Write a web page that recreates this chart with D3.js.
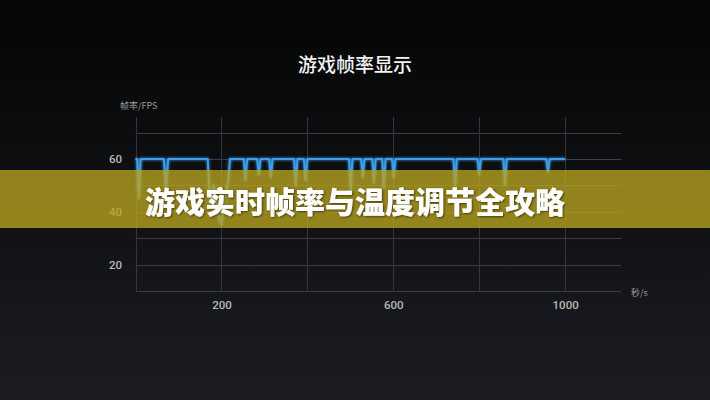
<!DOCTYPE html>
<html><head><meta charset="utf-8">
<script src="https://cdn.jsdelivr.net/npm/d3@7"></script>
<style>html,body{margin:0;padding:0;background:#0a0a0b;}svg{display:block;}</style>
</head><body>
<script>
const chartTitle = "游戏帧率显示";
const bannerText = "游戏实时帧率与温度调节全攻略";
const yAxisTitle = "帧率/FPS";
const xAxisTitle = "秒/s";
const xGridValues = [0, 200, 400, 600, 800, 1000];
const xTickLabels = [200, 600, 1000];
const yGridValues = [10, 20, 30, 40, 50, 60, 70];
const yTickLabels = [20, 40, 60];
const seconds = [0,4,8,12, 66,71,76, 168,174,182,190,200,208,216,220, 252,256,260, 283,287,291, 311,315,319, 369,373,377, 392,396,400, 497,501,505, 525,529,533, 551,555,559, 574,578,582, 597,601,605, 740,744,748, 796,800,804, 856,860,864, 956,960,964, 1000];
const fps =     [60,60,45,60, 60,48,60, 60,42,50,40,35,45,52,60, 60,52,60, 60,54,60, 60,53,60, 60,50,60, 60,52,60, 60,48,60, 60,53,60, 60,51,60, 60,49,60, 60,53,60, 60,50,60, 60,54,60, 60,50,60, 60,55,60, 60];

const W = 710, H = 400;
const svg = d3.select("body").append("svg").attr("width", W).attr("height", H);
const defs = svg.append("defs");
const bg = defs.append("linearGradient").attr("id","bg").attr("x1",0).attr("y1",0).attr("x2",0).attr("y2",1);
bg.append("stop").attr("offset","0").attr("stop-color","#050505");
bg.append("stop").attr("offset","0.35").attr("stop-color","#0c0d0f");
bg.append("stop").attr("offset","1").attr("stop-color","#1b1d23");
const glow = defs.append("filter").attr("id","glow").attr("x","-20%").attr("y","-20%").attr("width","140%").attr("height","140%");
glow.append("feGaussianBlur").attr("stdDeviation",1.6).attr("result","b");
const m = glow.append("feMerge");
m.append("feMergeNode").attr("in","b");
m.append("feMergeNode").attr("in","SourceGraphic");
const shadow = defs.append("filter").attr("id","tshadow").attr("x","-10%").attr("y","-30%").attr("width","120%").attr("height","160%");
shadow.append("feDropShadow").attr("dx",1).attr("dy",1).attr("stdDeviation",1.2).attr("flood-color","#000").attr("flood-opacity",0.55);

svg.append("rect").attr("width",W).attr("height",H).attr("fill","url(#bg)");

const x = d3.scaleLinear().domain([0, 1130]).range([135.5, 621]);
const y = d3.scaleLinear().domain([10, 70]).range([291, 132.5]);

// title
svg.append("text").attr("x",355).attr("y",63.5).attr("text-anchor","middle").attr("dominant-baseline","central")
  .attr("fill","#f2f2f2").attr("font-family","'Noto Sans CJK SC'").attr("font-size",19).attr("font-weight",500).text(chartTitle);

// grid
const g = svg.append("g");
g.selectAll("line.h").data(yGridValues).join("line").attr("class","h")
  .attr("x1",x(0)).attr("x2",621).attr("y1",d=>Math.round(y(d))+0.5).attr("y2",d=>Math.round(y(d))+0.5)
  .attr("stroke","#3b3e45").attr("stroke-width",1);
g.selectAll("line.v").data(xGridValues).join("line").attr("class","v")
  .attr("x1",d=>Math.round(x(d))+0.5).attr("x2",d=>Math.round(x(d))+0.5).attr("y1",117).attr("y2",y(10))
  .attr("stroke","#33363c").attr("stroke-width",1);

// axes labels via d3 axes
const yAxis = svg.append("g").attr("transform","translate(122,0)")
  .call(d3.axisLeft(y).tickValues(yTickLabels).tickSize(0).tickPadding(0));
yAxis.select(".domain").remove();
yAxis.selectAll("text").attr("fill","#b8b8b8").attr("font-family","Roboto").attr("font-size",11.5).attr("font-weight",500);

const xAxis = svg.append("g").attr("transform","translate(0,301)")
  .call(d3.axisBottom(x).tickValues(xTickLabels).tickFormat(d3.format("d")).tickSize(0).tickPadding(0));
xAxis.select(".domain").remove();
xAxis.selectAll("text").attr("fill","#b8b8b8").attr("font-family","Roboto").attr("font-size",11.5).attr("font-weight",500);

svg.append("text").attr("x",120).attr("y",105).attr("dominant-baseline","central").attr("fill","#9a9a9a")
  .attr("font-family","'Noto Sans CJK SC'").attr("font-size",9).text(yAxisTitle);
svg.append("text").attr("x",631).attr("y",292).attr("dominant-baseline","central").attr("fill","#9a9a9a")
  .attr("font-family","'Noto Sans CJK SC'").attr("font-size",9).text(xAxisTitle);

// line
const pts = seconds.map((s,i)=>[s,fps[i]]);
const lineGen = d3.line().x(d=>x(d[0])).y(d=>y(d[1]));
svg.append("path").datum(pts).attr("d",lineGen).attr("fill","none")
  .attr("stroke","#3c9fec").attr("stroke-width",2).attr("stroke-linejoin","round").attr("filter","url(#glow)");

// banner
svg.append("rect").attr("x",0).attr("y",170).attr("width",W).attr("height",58).attr("fill","#b8a41f").attr("fill-opacity",0.78);
svg.append("text").attr("x",145).attr("y",200).attr("dominant-baseline","central").attr("fill","#ffffff")
  .attr("font-family","'Noto Sans CJK SC'").attr("font-size",30).attr("font-weight",900)
  .attr("filter","url(#tshadow)").text(bannerText);
</script>
</body></html>
